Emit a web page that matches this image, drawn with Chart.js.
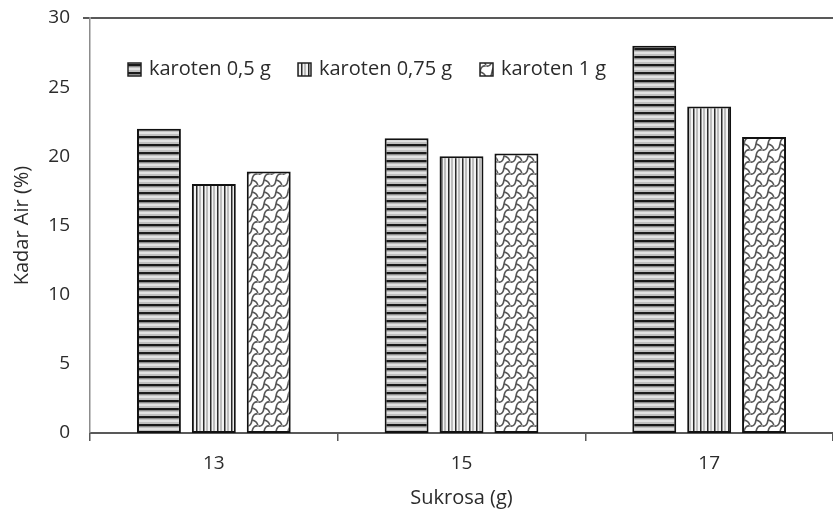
<!DOCTYPE html>
<html>
<head>
<meta charset="utf-8">
<script src="https://cdn.jsdelivr.net/npm/chart.js@4.4.1/dist/chart.umd.min.js"></script>
<style>
  html, body { margin: 0; padding: 0; background: #ffffff; }
  #wrap { width: 833px; height: 518px; }
</style>
</head>
<body>
<div id="wrap"><canvas id="chart" width="833" height="518"></canvas></div>
<script>
// Kadar air per sukrosa level, one series per karoten dose
const categories = ['13', '15', '17'];
const seriesLabels = ['karoten 0,5 g', 'karoten 0,75 g', 'karoten 1 g'];
const karoten05 = [22.0, 21.3, 28.0];
const karoten075 = [18.0, 20.0, 23.6];
const karoten1 = [18.9, 20.2, 21.4];
const yMin = 0, yMax = 30, yStep = 5;

const FONT = '"Open Sans", Lato, sans-serif';
const TEXT = '#2b2b2b';
const AXIS = '#595959';

// Hatch fills for the three series
function tile(w, h, draw) {
  const c = document.createElement('canvas');
  c.width = w; c.height = h;
  const g = c.getContext('2d');
  draw(g, w, h);
  return document.getElementById('chart').getContext('2d').createPattern(c, 'repeat');
}
const hStripes = tile(8, 8, (g, w, h) => {
  g.fillStyle = '#c0c0c0'; g.fillRect(0, 0, w, h);
  g.fillStyle = '#e2e2e2'; g.fillRect(0, 4, w, 2);
  g.fillStyle = '#1a1a1a'; g.fillRect(0, 0, w, 2);
  g.fillStyle = '#8a8a8a'; g.fillRect(0, 2, w, 1);
});
const vStripes = tile(7, 7, (g, w, h) => {
  g.fillStyle = '#f2f2f2'; g.fillRect(0, 0, w, h);
  g.fillStyle = '#bdbdbd'; g.fillRect(3, 0, 2, h);
  g.fillStyle = '#2a2a2a'; g.fillRect(0, 0, 1, h);
  g.fillStyle = '#8c8c8c'; g.fillRect(1, 0, 1, h);
});
// wavy chain-link lattice: grey curved seams in both diagonals on white
const lattice = tile(12, 12, (g, w, h) => {
  g.fillStyle = '#ffffff'; g.fillRect(0, 0, w, h);
  g.strokeStyle = '#555555';
  g.lineWidth = 1.6;
  for (let ox = -12; ox <= 12; ox += 12) {
    for (let oy = -12; oy <= 12; oy += 12) {
      g.beginPath();
      g.moveTo(ox + 0, oy + 12);
      g.quadraticCurveTo(ox + 1, oy + 5, ox + 6, oy + 6);
      g.quadraticCurveTo(ox + 11, oy + 7, ox + 12, oy + 0);
      g.stroke();
      g.beginPath();
      g.moveTo(ox + 0, oy + 0);
      g.quadraticCurveTo(ox + 5, oy + 1, ox + 6, oy + 6);
      g.stroke();
    }
  }
  g.fillStyle = '#9a9a9a';
  g.fillRect(5, 5, 2, 2);
});
const fills = [hStripes, vStripes, lattice];

// Legend drawn inside the plot area, Excel style
const insideLegend = {
  id: 'insideLegend',
  afterDraw(chart) {
    const ctx = chart.ctx;
    ctx.save();
    ctx.font = '20px ' + FONT;
    ctx.textBaseline = 'middle';
    const y = 69;
    const starts = [128, 298, 480];
    chart.data.datasets.forEach((ds, i) => {
      const x = starts[i];
      ctx.fillStyle = ds.backgroundColor;
      ctx.fillRect(x, y - 6, 13, 13);
      ctx.strokeStyle = '#222';
      ctx.lineWidth = 1.5;
      ctx.strokeRect(x, y - 6, 13, 13);
      ctx.fillStyle = TEXT;
      ctx.fillText(ds.label, x + 21, y);
    });
    ctx.restore();
  }
};

const datasets = [karoten05, karoten075, karoten1].map((vals, i) => ({
  label: seriesLabels[i],
  data: vals,
  backgroundColor: fills[i],
  borderColor: '#111111',
  borderWidth: 2,
  borderSkipped: false,
  barPercentage: 0.8,
  categoryPercentage: 0.665
}));

new Chart(document.getElementById('chart'), {
  type: 'bar',
  data: { labels: categories, datasets },
  options: {
    responsive: false,
    animation: false,
    devicePixelRatio: 1,
    layout: { padding: { top: 18, right: 0, bottom: 0, left: 0 } },
    plugins: { legend: { display: false }, tooltip: { enabled: false } },
    scales: {
      x: {
        grid: {
          offset: true,
          drawOnChartArea: false,
          drawTicks: true,
          tickLength: 8,
          tickColor: AXIS,
          lineWidth: 1.5
        },
        border: { display: true, color: AXIS, width: 2 },
        ticks: { color: TEXT, font: { family: FONT, size: 19 }, padding: 11 },
        title: {
          display: true, text: 'Sukrosa (g)', color: TEXT,
          font: { family: FONT, size: 20 }, padding: { top: 0, bottom: 8 }
        },
        afterFit(scale) { scale.height = 85; }
      },
      y: {
        min: yMin, max: yMax,
        ticks: { stepSize: yStep, color: TEXT, font: { family: FONT, size: 19, lineHeight: 0.4 }, padding: 13 },
        grid: {
          color: c => (c.tick && c.tick.value === yMax ? AXIS : 'rgba(0,0,0,0)'),
          lineWidth: c => (c.tick && c.tick.value === yMax ? 2 : 0),
          tickColor: AXIS,
          tickLength: 7,
          drawTicks: true
        },
        border: { display: true, color: '#8c8c8c', width: 1.5 },
        title: {
          display: true, text: 'Kadar Air (%)', color: TEXT,
          font: { family: FONT, size: 20 }, padding: { top: 10, bottom: 0 }
        },
        afterFit(scale) { scale.width = 90; }
      }
    }
  },
  plugins: [insideLegend]
});
</script>
</body>
</html>
